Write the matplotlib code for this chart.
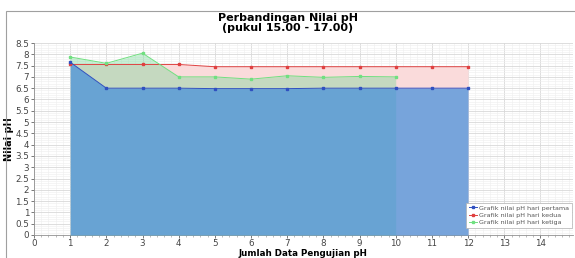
import matplotlib
matplotlib.use("Agg")
import matplotlib.pyplot as plt
from matplotlib.ticker import MultipleLocator
from matplotlib.patches import Rectangle

x_pertama = [1, 2, 3, 4, 5, 6, 7, 8, 9, 10, 11, 12]
ph_pertama = [7.65, 6.5, 6.5, 6.5, 6.48, 6.48, 6.48, 6.5, 6.5, 6.5, 6.5, 6.5]
x_kedua = [1, 2, 3, 4, 5, 6, 7, 8, 9, 10, 11, 12]
ph_kedua = [7.55, 7.55, 7.55, 7.55, 7.45, 7.45, 7.45, 7.45, 7.45, 7.45, 7.45, 7.45]
x_ketiga = [1, 2, 3, 4, 5, 6, 7, 8, 9, 10]
ph_ketiga = [7.88, 7.6, 8.05, 7.0, 7.0, 6.9, 7.05, 6.98, 7.02, 7.0]

title = "Perbandingan Nilai pH\n(pukul 15.00 - 17.00)"
xlabel = "Jumlah Data Pengujian pH"
ylabel = "Nilai pH"
labels = ["Grafik nilai pH hari pertama", "Grafik nilai pH hari kedua", "Grafik nilai pH hari ketiga"]

fig = plt.figure(figsize=(5.75, 2.58), dpi=100)
fig.patch.set_facecolor("white")
# outer border
fig.patches.append(Rectangle((6/575, -0.01), 1.0, 1 - 11/258 + 0.01, transform=fig.transFigure,
                             fill=False, edgecolor="#a0a0a0", linewidth=0.8))

ax = fig.add_axes([34/575, 23/258, 539/575, 192/258])
ax.set_xlim(0, 14.9)
ax.set_ylim(0, 8.5)

ax.xaxis.set_major_locator(MultipleLocator(1))
ax.xaxis.set_minor_locator(MultipleLocator(0.2))
ax.yaxis.set_major_locator(MultipleLocator(0.5))
ax.yaxis.set_minor_locator(MultipleLocator(0.1))
ax.grid(which="major", color="#d8d8d8", linewidth=0.6)
ax.grid(which="minor", color="#eeeeee", linewidth=0.4)
ax.set_axisbelow(True)

# areas
ax.fill_between(x_kedua, 0, ph_kedua, color=(0.98, 0.86, 0.86), alpha=1.0, linewidth=0, zorder=2)
ax.fill_between(x_ketiga, 0, ph_ketiga, color="#77d898", alpha=0.4, linewidth=0, zorder=3)
ax.fill_between(x_pertama, 0, ph_pertama, color=(0.27, 0.56, 0.86), alpha=0.72, linewidth=0, zorder=4)

# lines + markers
ax.plot(x_kedua, ph_kedua, color="#e04040", linewidth=0.7, marker="s", markersize=2.0, zorder=5, label=labels[1])
ax.plot(x_ketiga, ph_ketiga, color="#70e080", linewidth=0.7, marker="s", markersize=1.8, zorder=5, label=labels[2])
ax.plot(x_pertama, ph_pertama, color="#3050c0", linewidth=0.7, marker="s", markersize=1.8, zorder=6, label=labels[0])

for s in ["top", "right"]:
    ax.spines[s].set_visible(False)
for s in ["left", "bottom"]:
    ax.spines[s].set_color("#909090")
    ax.spines[s].set_linewidth(0.6)

ax.tick_params(axis="both", which="major", labelsize=6.3, colors="#444444", length=2.5, width=0.5, pad=1)
ax.tick_params(axis="x", which="major", pad=0.5)
ax.tick_params(axis="x", which="minor", length=1.5, width=0.4, colors="#888888")
ax.tick_params(axis="y", which="minor", length=0)
ax.set_xticks(range(0, 15))
ax.set_xticklabels([str(i) for i in range(0, 15)])
ax.set_yticks([i * 0.5 for i in range(0, 18)])
ax.set_yticklabels(["0", "0.5", "1", "1.5", "2", "2.5", "3", "3.5", "4", "4.5", "5", "5.5", "6", "6.5", "7", "7.5", "8", "8.5"])

ax.set_ylabel(ylabel, fontsize=7, fontweight="bold", labelpad=1)
fig.text(303/575, 0.5/258, xlabel, ha="center", va="bottom", fontsize=6.3, fontweight="bold")

fig.text(288/575, 1 - 23/258, title, ha="center", va="center", fontsize=8, fontweight="bold", linespacing=1.0)

handles, labs = ax.get_legend_handles_labels()
order = [2, 0, 1]
leg = ax.legend([handles[i] for i in order], [labs[i] for i in order], loc="lower right",
                bbox_to_anchor=(1.0, 0.03), fontsize=4.6, frameon=True, fancybox=False,
                edgecolor="#b0b0b0", framealpha=1, handlelength=1.2, handletextpad=0.4,
                borderpad=0.4, labelspacing=0.3, borderaxespad=0.2)
leg.get_frame().set_linewidth(0.5)
for t in leg.get_texts():
    t.set_color("#555555")

fig.savefig("out.png", dpi=100)
